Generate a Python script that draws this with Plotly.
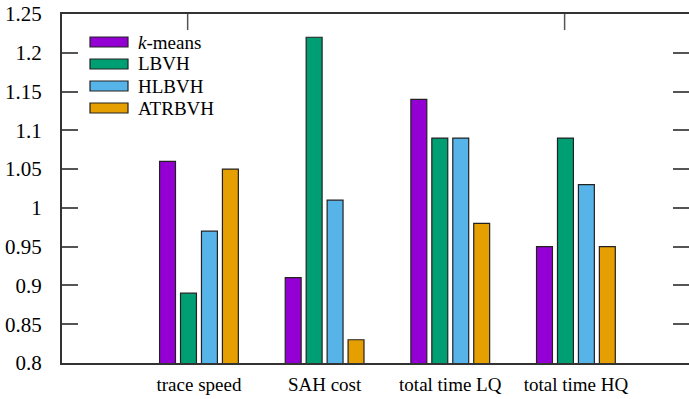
import plotly.graph_objects as go

categories = ["trace speed", "SAH cost", "total time LQ", "total time HQ"]
series_names = ["<i>k</i>-means", "LBVH", "HLBVH", "ATRBVH"]
kmeans = [1.06, 0.91, 1.14, 0.95]
lbvh = [0.89, 1.22, 1.09, 1.09]
hlbvh = [0.97, 1.01, 1.09, 1.03]
atrbvh = [1.05, 0.83, 0.98, 0.95]
y_ticks = [0.8, 0.85, 0.9, 0.95, 1.0, 1.05, 1.1, 1.15, 1.2, 1.25]
y_tick_labels = ["0.8", "0.85", "0.9", "0.95", "1", "1.05", "1.1", "1.15", "1.2", "1.25"]

colors = ["#9400D3", "#009E73", "#56B4E9", "#E69F00"]
values = [kmeans, lbvh, hlbvh, atrbvh]
xpos = list(range(len(categories)))

FONT = "Liberation Serif"
AX = "#333333"

fig = go.Figure()
for name, vals, col in zip(series_names, values, colors):
    fig.add_trace(go.Bar(
        x=xpos, y=vals, name=name, marker=dict(color=col, line=dict(color="#222222", width=1.2)),
        showlegend=False,
    ))

XR = [-1.09, 3.90]
fig.update_layout(
    width=689, height=399,
    margin=dict(l=62, r=0, t=14, b=36),
    paper_bgcolor="white", plot_bgcolor="white",
    barmode="group", bargap=0.333, bargroupgap=0.24,
    font=dict(family=FONT, size=18, color="black"),
    xaxis=dict(range=XR, tickvals=xpos, ticktext=categories, ticks="",
               showline=True, linecolor=AX, linewidth=2, mirror=True,
               showgrid=False, zeroline=False, ticklabelstandoff=3,
               automargin=False, tickfont=dict(size=19, family=FONT)),
    yaxis=dict(range=[0.8, 1.25], tickvals=y_ticks, ticktext=y_tick_labels,
               ticks="inside", ticklen=16, tickwidth=1.5, tickcolor="#555555",
               showline=True, linecolor=AX, linewidth=2, mirror="ticks",
               showgrid=False, zeroline=False, ticklabelstandoff=14,
               automargin=False, tickfont=dict(size=21, family=FONT)),
)

# top mirrored x ticks
for xt in [-0.09, 2.91]:
    xp = (xt - XR[0]) / (XR[1] - XR[0])
    fig.add_shape(type="line", xref="paper", yref="paper", x0=xp, x1=xp, y0=1, y1=1 - 16 / 349,
                  line=dict(color="#555555", width=1.5))

# manual legend
plot_h = 349.0
plot_w = 627.0
for i, (name, col) in enumerate(zip(series_names, colors)):
    yc = 1 - (42 - 14 + i * 22) / plot_h
    fig.add_shape(type="rect", xref="paper", yref="paper",
                  x0=(90 - 62) / plot_w, x1=(128 - 62) / plot_w,
                  y0=yc - 5 / plot_h, y1=yc + 5 / plot_h,
                  fillcolor=col, line=dict(color="#222222", width=1.2))
    fig.add_annotation(xref="paper", yref="paper", x=(136 - 62) / plot_w, y=yc,
                       text=name, showarrow=False, xanchor="left", yanchor="middle",
                       font=dict(size=19, family=FONT))

fig.write_html("out.html", post_script="document.body.style.margin='0';",
               config={"displayModeBar": False})
